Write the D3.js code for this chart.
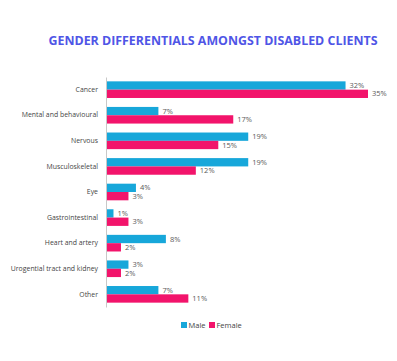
<!DOCTYPE html>
<html>
<head>
<meta charset="utf-8">
<script src="https://cdn.jsdelivr.net/npm/d3@7"></script>
<style>
  html, body { margin: 0; padding: 0; background: #fff; }
  svg { display: block; font-family: "Open Sans", sans-serif; }
</style>
</head>
<body>
<div id="chart"></div>
<script>
const categories = ['Cancer', 'Mental and behavioural', 'Nervous', 'Musculoskeletal', 'Eye',
  'Gastrointestinal', 'Heart and artery', 'Urogential tract and kidney', 'Other'];
const maleValues = [32, 7, 19, 19, 4, 1, 8, 3, 7];
const femaleValues = [35, 17, 15, 12, 3, 3, 2, 2, 11];
const seriesNames = ['Male', 'Female'];
const seriesColors = ['#17a7da', '#f2146b'];

const width = 397, height = 361;
const svg = d3.select('#chart').append('svg')
  .attr('width', width).attr('height', height);

svg.append('text')
  .attr('x', 213).attr('y', 45)
  .attr('text-anchor', 'middle')
  .attr('fill', '#4f55e6')
  .style('font-size', '12.4px')
  .style('font-weight', 700)
  .text('GENDER DIFFERENTIALS AMONGST DISABLED CLIENTS');

const x = d3.scaleLinear().domain([0, 35]).range([106, 368]);
const y = d3.scaleBand().domain(categories).range([77, 307]).paddingInner(0.35).paddingOuter(0.17);
const sub = d3.scaleBand().domain(seriesNames).range([0, y.bandwidth()]);

const rows = categories.map((c, i) => ({ c, vals: [maleValues[i], femaleValues[i]] }));

const g = svg.append('g');
rows.forEach(r => {
  r.vals.forEach((v, j) => {
    const yy = y(r.c) + sub(seriesNames[j]);
    g.append('rect')
      .attr('x', x(0)).attr('y', yy)
      .attr('width', x(v) - x(0)).attr('height', sub.bandwidth())
      .attr('fill', seriesColors[j]);
    g.append('text')
      .attr('x', x(v) + 4).attr('y', yy + sub.bandwidth() / 2)
      .attr('dy', '0.35em')
      .attr('fill', '#595959')
      .style('font-size', '7.5px')
      .text(v + '%');
  });
});

// category axis
const axis = svg.append('g').attr('transform', `translate(${x(0)},0)`)
  .call(d3.axisLeft(y).tickSize(0).tickPadding(8));
axis.select('.domain').attr('stroke', '#c8c8c8');
axis.selectAll('text').attr('fill', '#444').style('font-size', '6.9px')
  .style('font-family', '"Open Sans", sans-serif');

// legend
const legend = svg.append('g');
const legendX = [181, 209];
seriesNames.forEach((s, j) => {
  legend.append('rect')
    .attr('x', legendX[j]).attr('y', 322)
    .attr('width', 6).attr('height', 6)
    .attr('fill', seriesColors[j]);
  legend.append('text')
    .attr('x', legendX[j] + 7.5).attr('y', 325)
    .attr('dy', '0.35em')
    .attr('fill', '#444')
    .style('font-size', '7.5px')
    .text(s);
});
</script>
</body>
</html>
